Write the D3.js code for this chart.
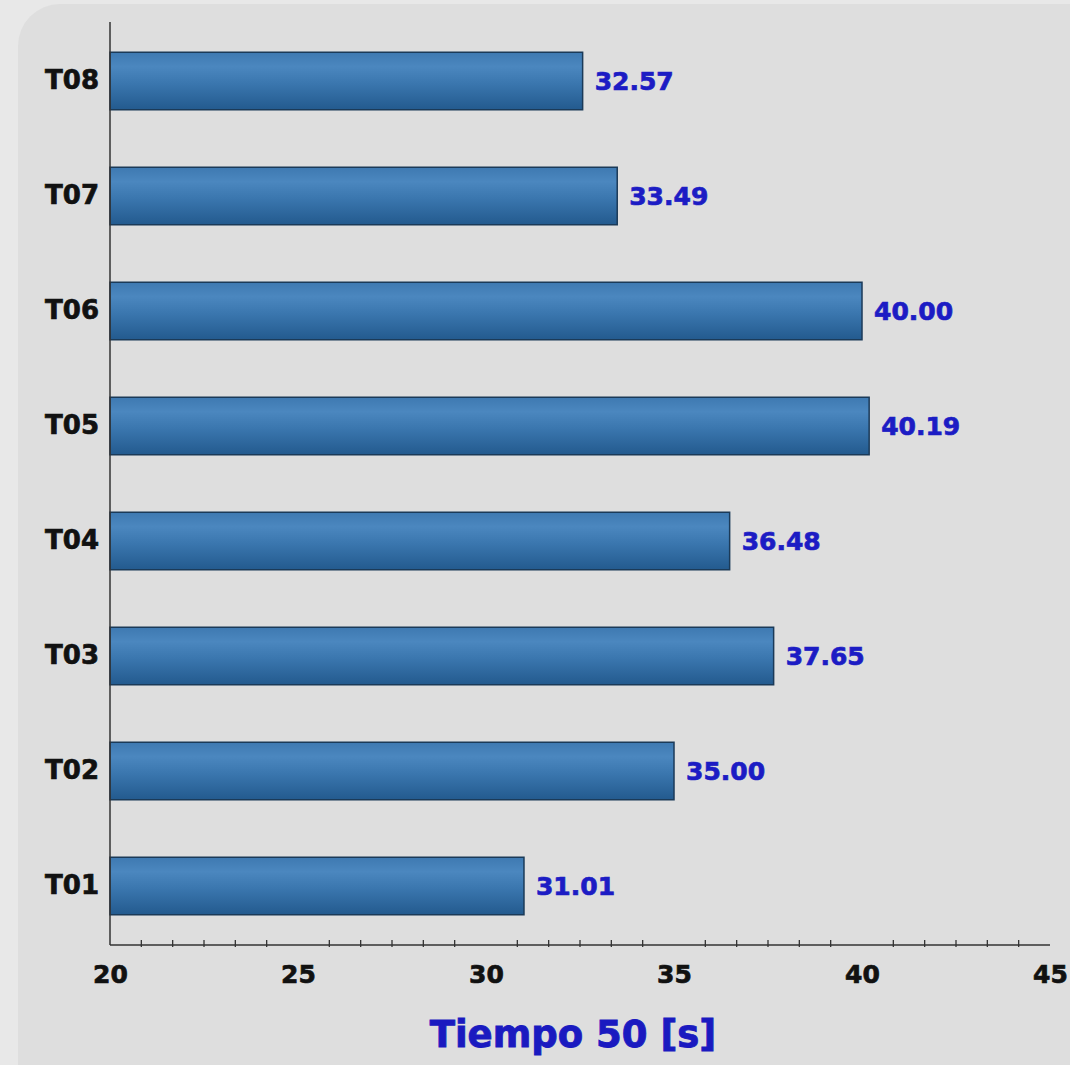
<!DOCTYPE html>
<html><head><meta charset="utf-8">
<script src="https://cdn.jsdelivr.net/npm/d3@7"></script>
<style>
html,body{margin:0;padding:0;background:#e8e8e8;}
svg{display:block;}
</style></head>
<body><svg id="c" width="1070" height="1065"></svg>
<script>
const categories = ["T01","T02","T03","T04","T05","T06","T07","T08"];
const values = [31.01,35.00,37.65,36.48,40.19,40.00,33.49,32.57];
const valueLabels = ["31.01","35.00","37.65","36.48","40.19","40.00","33.49","32.57"];
const xTicks = [20,25,30,35,40,45];
const xTitle = "Tiempo 50 [s]";

const svg = d3.select("#c");
const W = 1070, H = 1065;
const FONT = "'DejaVu Sans', sans-serif";

// panel
svg.append("rect").attr("x",18).attr("y",4).attr("width",W-18+40).attr("height",H-4+40)
  .attr("rx",42).attr("fill","#dedede");

const defs = svg.append("defs");
const g1 = defs.append("linearGradient").attr("id","barV").attr("x1",0).attr("y1",0).attr("x2",0).attr("y2",1);
[[0,"#3e79b1"],[0.25,"#4b87bf"],[0.55,"#3a76ae"],[1,"#235a8e"]].forEach(s=>g1.append("stop").attr("offset",s[0]).attr("stop-color",s[1]));

const x = d3.scaleLinear().domain([20,45]).range([110,1050]);
const y = d3.scaleBand().domain(categories.slice().reverse()).range([23.5,943.5]).paddingInner(0.5).paddingOuter(0.25);

// bars
svg.append("g").selectAll("rect").data(categories).join("rect")
  .attr("x", x(20))
  .attr("y", (d)=>y(d))
  .attr("width", (d,i)=>x(values[i])-x(20))
  .attr("height", y.bandwidth())
  .attr("fill","url(#barV)")
  .attr("stroke","#1b3a58").attr("stroke-width",1.5);

// value labels
svg.append("g").selectAll("text").data(categories).join("text")
  .attr("x",(d,i)=>x(values[i])+12)
  .attr("y",(d)=>y(d)+y.bandwidth()/2)
  .attr("dy","0.36em")
  .attr("fill","#1c1cc4").attr("stroke","#1c1cc4").attr("stroke-width",0.7)
  .attr("font-family",FONT).attr("font-weight","bold").attr("font-size",25)
  .text((d,i)=>valueLabels[i]);

// y axis
const yAxis = d3.axisLeft(y).tickSize(0).tickPadding(11);
const ya = svg.append("g").attr("transform",`translate(${x(20)},0)`).call(yAxis);
ya.select(".domain").remove();
ya.selectAll("text").attr("font-family",FONT).attr("font-weight","bold").attr("font-size",26)
  .attr("fill","#111").attr("stroke","#111").attr("stroke-width",0.7);
svg.append("line").attr("x1",x(20)).attr("x2",x(20)).attr("y1",22).attr("y2",945).attr("stroke","#333").attr("stroke-width",1.5);

// x axis
const minor = d3.range(0,31).map(k=>20+k*5/6).filter((v,k)=>k%6!==0);
svg.append("line").attr("x1",x(20)).attr("x2",x(45)).attr("y1",945).attr("y2",945).attr("stroke","#333").attr("stroke-width",1.5);
svg.append("g").selectAll("line").data(minor).join("line")
  .attr("x1",d=>x(d)).attr("x2",d=>x(d)).attr("y1",940).attr("y2",947)
  .attr("stroke","#333").attr("stroke-width",1.3);
const xAxis = d3.axisBottom(x).tickValues(xTicks).tickSize(0).tickPadding(0);
const xa = svg.append("g").attr("transform","translate(0,945)").call(xAxis);
xa.select(".domain").remove();
xa.selectAll("text").attr("y",29).attr("dy","0.36em").attr("font-family",FONT).attr("font-weight","bold").attr("font-size",25)
  .attr("fill","#111").attr("stroke","#111").attr("stroke-width",0.7);

svg.append("text").attr("x",573).attr("y",1047).attr("text-anchor","middle")
  .attr("font-family",FONT).attr("font-weight","bold").attr("font-size",37)
  .attr("fill","#1a1ac0").attr("stroke","#1a1ac0").attr("stroke-width",0.9)
  .text(xTitle);
</script></body></html>
